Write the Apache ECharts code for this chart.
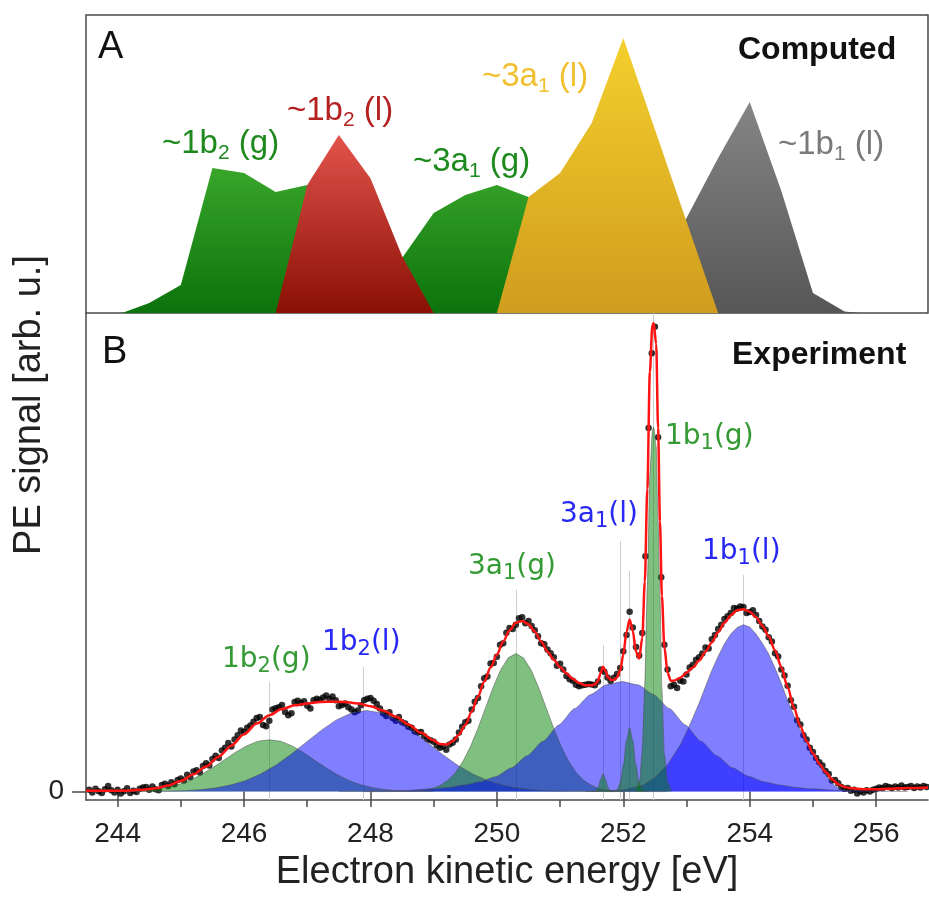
<!DOCTYPE html>
<html><head><meta charset="utf-8">
<script src="https://cdn.jsdelivr.net/npm/echarts@6/dist/echarts.min.js"></script>
<style>html,body{margin:0;padding:0;background:#fff}#c{width:929px;height:897px}</style>
</head><body><div id="c"></div>
<script>
// ---------- axes ----------
const xMin = 243.5, xMax = 256.82;
const xLabelValues = [244, 246, 248, 250, 252, 254, 256];
const xTickValues = [244, 245, 246, 247, 248, 249, 250, 251, 252, 253, 254, 255, 256];
const yTickValues = [0];
const yMinA = 0, yMaxA = 1.0836;
const yMinB = -0.018, yMaxB = 1.0266;

// ---------- panel A (computed), [energy, intensity] ----------
const compGas = [[243.5,0],[244.07,0],[244.5,0.036],[245.0,0.102],[245.5,0.527],[246.0,0.509],[246.5,0.44],[247.0,0.465],[247.5,0.40],[248.0,0.29],[248.5,0.2],[249.0,0.364],[249.5,0.429],[250.0,0.465],[250.5,0.422],[251.0,0.33],[251.5,0.15],[252.0,0]];
const compLiq1b2 = [[246.5,0],[247.0,0.465],[247.5,0.647],[248.0,0.49],[248.5,0.207],[249.0,0]];
const compLiq3a1 = [[250.0,0],[250.5,0.422],[251.0,0.509],[251.5,0.691],[252.0,1.0],[252.5,0.667],[253.0,0.333],[253.5,0]];
const compLiq1b1 = [[252.25,0],[252.5,0.127],[253.0,0.345],[253.5,0.564],[254.0,0.767],[254.5,0.444],[255.0,0.073],[255.5,0.005],[255.75,0]];

// ---------- panel B (experiment) fit components ----------
const fit1b2g = [[243.8,0],[244.24,0.001],[244.42,0.0025],[244.60,0.005],[244.78,0.009],[244.96,0.015],[245.14,0.024],[245.32,0.036],[245.50,0.051],[245.68,0.067],[245.86,0.084],[246.04,0.098],[246.22,0.108],[246.40,0.111],[246.58,0.108],[246.76,0.098],[246.94,0.084],[247.12,0.067],[247.30,0.051],[247.48,0.036],[247.66,0.024],[247.84,0.015],[248.02,0.009],[248.20,0.005],[248.38,0.0025],[248.56,0.001],[249.0,0]];
const fit1b2l = [[244.0,0],[244.58,0.0004],[245.06,0.002],[245.30,0.004],[245.54,0.0076],[245.78,0.014],[246.02,0.0235],[246.26,0.0376],[246.50,0.0565],[246.74,0.0797],[246.98,0.1055],[247.22,0.1313],[247.46,0.1536],[247.70,0.1686],[247.94,0.174],[248.18,0.1686],[248.42,0.1536],[248.66,0.1313],[248.90,0.1055],[249.14,0.0797],[249.38,0.0565],[249.62,0.0376],[249.86,0.0235],[250.10,0.0139],[250.34,0.0076],[250.58,0.004],[250.82,0.0019],[251.30,0.0004],[252.0,0]];
const fit3a1g = [[247.9,0],[248.38,0.0001],[248.62,0.0007],[248.86,0.0033],[248.98,0.0067],[249.10,0.013],[249.22,0.0236],[249.34,0.040],[249.46,0.064],[249.58,0.0961],[249.70,0.1355],[249.82,0.1795],[249.94,0.2234],[250.06,0.2612],[250.18,0.2869],[250.30,0.296],[250.42,0.2869],[250.54,0.2612],[250.66,0.2234],[250.78,0.1795],[250.90,0.1355],[251.02,0.0961],[251.14,0.064],[251.26,0.040],[251.38,0.0236],[251.50,0.013],[251.62,0.0067],[251.74,0.0033],[251.98,0.0007],[252.22,0.0001],[252.7,0]];
const fit3a1l = [[247.5,0],[247.98,0.001],[248.48,0.002],[248.98,0.006],[249.23,0.009],[249.48,0.014],[249.73,0.021],[249.98,0.032],[250.23,0.051],[250.48,0.077],[250.73,0.108],[250.98,0.143],[251.23,0.178],[251.48,0.208],[251.73,0.229],[251.98,0.236],[252.23,0.229],[252.48,0.208],[252.73,0.178],[252.98,0.143],[253.23,0.108],[253.48,0.077],[253.73,0.051],[253.98,0.033],[254.23,0.021],[254.48,0.014],[254.73,0.009],[254.98,0.006],[255.48,0.002],[255.98,0.001],[256.5,0]];
const fitSmall1 = [[251.50,0],[251.56,0.0014],[251.60,0.0082],[251.64,0.026],[251.68,0.038],[251.72,0.026],[251.76,0.0082],[251.80,0.0014],[251.86,0]];
const fitSmall2 = [[251.80,0],[251.85,0.0005],[251.90,0.0039],[251.95,0.0186],[252.00,0.0563],[252.05,0.1097],[252.10,0.137],[252.15,0.1097],[252.20,0.0563],[252.25,0.0186],[252.30,0.0039],[252.35,0.0005],[252.40,0]];
const fit1b1g = [[252.20,0],[252.26,0.025],[252.30,0.09],[252.34,0.23],[252.38,0.44],[252.42,0.68],[252.46,0.775],[252.48,0.782],[252.52,0.74],[252.55,0.58],[252.58,0.42],[252.61,0.22],[252.65,0.08],[252.70,0.02],[252.76,0]];
const fit1b1l = [[251.4,0],[251.7,0.001],[252.0,0.004],[252.3,0.013],[252.5,0.03],[252.7,0.058],[252.9,0.1],[253.0,0.128],[253.1,0.158],[253.2,0.19],[253.3,0.225],[253.4,0.26],[253.5,0.29],[253.6,0.317],[253.7,0.338],[253.8,0.352],[253.9,0.358],[254.0,0.353],[254.1,0.338],[254.2,0.318],[254.3,0.295],[254.4,0.265],[254.5,0.232],[254.6,0.195],[254.7,0.162],[254.8,0.132],[254.9,0.105],[255.0,0.082],[255.1,0.058],[255.2,0.037],[255.3,0.018],[255.4,0.007],[255.5,0.002],[255.6,0]];
const fitTotal = [[243.5,0.002],[243.8,0.002],[244.1,0.002],[244.4,0.004],[244.6,0.007],[244.8,0.013],[245.0,0.023],[245.2,0.037],[245.4,0.054],[245.6,0.075],[245.8,0.099],[246.0,0.123],[246.2,0.146],[246.4,0.164],[246.6,0.177],[246.8,0.185],[247.0,0.189],[247.2,0.192],[247.4,0.193],[247.6,0.192],[247.8,0.189],[248.0,0.183],[248.2,0.174],[248.4,0.161],[248.6,0.144],[248.8,0.126],[249.0,0.110],[249.1,0.102],[249.2,0.101],[249.3,0.108],[249.4,0.122],[249.5,0.143],[249.6,0.171],[249.7,0.204],[249.8,0.236],[249.9,0.266],[250.0,0.294],[250.1,0.322],[250.2,0.346],[250.3,0.362],[250.4,0.366],[250.5,0.359],[250.6,0.343],[250.7,0.322],[250.8,0.300],[250.9,0.283],[251.0,0.267],[251.1,0.254],[251.2,0.242],[251.3,0.233],[251.4,0.228],[251.5,0.228],[251.56,0.231],[251.60,0.238],[251.64,0.254],[251.68,0.268],[251.72,0.258],[251.76,0.245],[251.80,0.240],[251.85,0.240],[251.90,0.245],[251.95,0.260],[252.00,0.294],[252.05,0.342],[252.10,0.369],[252.15,0.345],[252.20,0.300],[252.25,0.285],[252.30,0.33],[252.34,0.45],[252.38,0.65],[252.42,0.90],[252.46,1.00],[252.48,1.005],[252.52,0.96],[252.55,0.78],[252.58,0.58],[252.61,0.42],[252.65,0.31],[252.70,0.255],[252.75,0.238],[252.80,0.238],[252.90,0.244],[253.00,0.255],[253.10,0.266],[253.20,0.281],[253.30,0.300],[253.40,0.320],[253.50,0.342],[253.60,0.362],[253.70,0.378],[253.80,0.389],[253.90,0.391],[254.00,0.386],[254.10,0.374],[254.20,0.356],[254.30,0.333],[254.40,0.303],[254.50,0.267],[254.60,0.224],[254.70,0.180],[254.80,0.140],[254.90,0.108],[255.00,0.082],[255.10,0.060],[255.20,0.042],[255.30,0.027],[255.40,0.016],[255.50,0.010],[255.60,0.007],[255.80,0.005],[256.00,0.005],[256.20,0.006],[256.40,0.007],[256.60,0.008],[256.82,0.009]];

// ---------- panel B measured points ----------
const expData = [[243.55,.004],[243.60,-.002],[243.65,.006],[243.70,.001],[243.75,-.003],[243.80,.005],[243.85,.012],[243.90,.003],[243.95,-.002],[244.00,.004],
[244.05,-.004],[244.10,.001],[244.15,.007],[244.20,-.003],[244.25,.002],[244.30,-.001],[244.35,.006],[244.40,.009],[244.45,.010],[244.50,.004],
[244.55,.011],[244.60,.005],[244.65,.003],[244.70,.014],[244.75,.017],[244.80,.012],[244.85,.020],[244.90,.016],[244.95,.025],[245.00,.028],
[245.05,.024],[245.10,.036],[245.15,.031],[245.20,.043],[245.25,.046],[245.30,.041],[245.35,.055],[245.40,.061],[245.45,.056],[245.50,.070],
[245.55,.077],[245.60,.072],[245.65,.088],[245.70,.094],[245.75,.104],[245.80,.097],[245.85,.112],[245.90,.121],[245.95,.131],[246.00,.128],
[246.05,.137],[246.10,.142],[246.15,.150],[246.20,.158],[246.25,.160],[246.30,.143],[246.35,.140],[246.40,.152],[246.45,.176],[246.50,.179],
[246.55,.181],[246.60,.186],[246.65,.171],[246.70,.164],[246.75,.168],[246.80,.192],[246.85,.195],[246.90,.190],[246.95,.194],[247.00,.184],
[247.05,.178],[247.10,.196],[247.15,.199],[247.20,.197],[247.25,.202],[247.30,.206],[247.35,.199],[247.40,.204],[247.45,.196],[247.50,.183],
[247.55,.186],[247.60,.189],[247.65,.181],[247.70,.176],[247.75,.170],[247.80,.174],[247.85,.185],[247.90,.196],[247.95,.199],[248.00,.201],
[248.05,.195],[248.10,.188],[248.15,.178],[248.20,.168],[248.25,.162],[248.30,.170],[248.35,.158],[248.40,.152],[248.45,.160],[248.50,.149],
[248.55,.146],[248.60,.139],[248.65,.137],[248.70,.129],[248.75,.127],[248.80,.128],[248.85,.119],[248.90,.113],[248.95,.110],[249.00,.107],
[249.05,.099],[249.10,.094],[249.15,.097],[249.20,.090],[249.25,.101],[249.30,.105],[249.35,.112],[249.40,.127],[249.45,.139],[249.50,.149],
[249.55,.152],[249.60,.176],[249.65,.193],[249.70,.201],[249.75,.226],[249.80,.243],[249.85,.247],[249.90,.275],[249.95,.276],[250.00,.289],
[250.05,.315],[250.10,.318],[250.15,.341],[250.20,.351],[250.25,.349],[250.30,.358],[250.35,.372],[250.40,.374],[250.45,.361],[250.50,.366],
[250.55,.355],[250.60,.346],[250.65,.333],[250.70,.318],[250.75,.316],[250.80,.305],[250.85,.297],[250.90,.288],[250.95,.270],[251.00,.274],
[251.05,.262],[251.10,.248],[251.15,.241],[251.20,.238],[251.25,.229],[251.30,.226],[251.35,.228],[251.40,.229],[251.45,.231],[251.50,.230],
[251.55,.228],[251.60,.236],[251.65,.262],[251.70,.257],[251.75,.245],[251.80,.237],[251.85,.244],[251.90,.252],[251.95,.265],[252.00,.301],
[252.05,.336],[252.10,.386],[252.15,.352],[252.20,.310],[252.25,.292],[252.30,.340],[252.35,.505],[252.40,.780],[252.45,.940],[252.50,.997],
[252.55,.760],[252.60,.460],[252.65,.315],[252.70,.262],[252.75,.226],[252.80,.229],[252.85,.222],[252.90,.238],[252.95,.236],[253.00,.251],
[253.05,.266],[253.10,.272],[253.15,.283],[253.20,.288],[253.25,.296],[253.30,.309],[253.35,.307],[253.40,.327],[253.45,.336],[253.50,.349],
[253.55,.358],[253.60,.370],[253.65,.376],[253.70,.383],[253.75,.394],[253.80,.393],[253.85,.397],[253.90,.396],[253.95,.383],[254.00,.385],
[254.05,.389],[254.10,.379],[254.15,.366],[254.20,.354],[254.25,.347],[254.30,.331],[254.35,.322],[254.40,.297],[254.45,.290],[254.50,.262],
[254.55,.249],[254.60,.227],[254.65,.196],[254.70,.182],[254.75,.153],[254.80,.144],[254.85,.121],[254.90,.112],[254.95,.094],[255.00,.085],
[255.05,.072],[255.10,.063],[255.15,.056],[255.20,.044],[255.25,.038],[255.30,.024],[255.35,.025],[255.40,.018],[255.45,.010],[255.50,.006],
[255.55,.008],[255.60,.002],[255.65,.004],[255.70,-.004],[255.75,.001],[255.80,-.002],[255.85,.003],[255.90,.000],[255.95,.004],[256.00,.006],
[256.05,.009],[256.10,.008],[256.15,.012],[256.20,.010],[256.25,.008],[256.30,.011],[256.35,.009],[256.40,.013],[256.45,.009],[256.50,.010],
[256.55,.012],[256.60,.008],[256.65,.011],[256.70,.009],[256.75,.012],[256.80,.010]];

// peak-position guide lines: [energy, top intensity]
const guideLines = [[246.40,0.235],[247.88,0.267],[250.30,0.433],[251.68,0.314],[251.95,0.537],[252.09,0.473],[252.47,1.0266],[253.89,0.465]];

// ---------- chart ----------
const FONT = '"Liberation Sans", Arial, Helvetica, sans-serif';
const VFONT = '"DejaVu Sans", Verdana, sans-serif';
const GREEN_FILL = 'rgba(0,128,0,0.5)';
const BLUE_FILL = 'rgba(0,0,255,0.5)';

function grad(top, bottom) {
  return new echarts.graphic.LinearGradient(0, 0, 0, 1, [{offset: 0, color: top}, {offset: 1, color: bottom}]);
}
function topArea(name, data, c1, c2) {
  return {name, type: 'line', xAxisIndex: 0, yAxisIndex: 0, data, symbol: 'none', silent: true,
    lineStyle: {width: 0}, areaStyle: {color: grad(c1, c2), opacity: 1}};
}
function comp(name, data, fill, smooth) {
  return {name, type: 'line', xAxisIndex: 1, yAxisIndex: 1, data, symbol: 'none', silent: true,
    smooth: smooth, smoothMonotone: 'x',
    lineStyle: {color: 'rgba(80,80,80,0.65)', width: 0.8},
    areaStyle: {color: fill, opacity: 1}};
}
function subLabel(x, y, pre, sub, post, size, subSize, color, family) {
  return {type: 'text', x: x, y: y, silent: true, z: 100,
    style: {text: '{m|' + pre + '}{s|' + sub + '}{m|' + post + '}', align: 'left', verticalAlign: 'middle',
      rich: {
        m: {fontSize: size, fontFamily: family, fill: color, color: color, lineHeight: size + 6},
        s: {fontSize: subSize, fontFamily: family, fill: color, color: color, lineHeight: subSize, verticalAlign: 'bottom'}
      }}};
}
function plainText(x, y, text, size, weight, color, family, rotation) {
  return {type: 'text', x: x, y: y, rotation: rotation || 0, silent: true, z: 100,
    style: {text: text, fontSize: size, fontWeight: weight, fontFamily: family, fill: color,
      align: rotation ? 'center' : 'left', verticalAlign: 'middle'}};
}

const chart = echarts.init(document.getElementById('c'));
chart.setOption({
  animation: false,
  backgroundColor: '#fff',
  grid: [
    {left: 86, right: 1, top: 15, height: 298, show: true, borderColor: '#4a4a4a', borderWidth: 1.5, backgroundColor: 'transparent'},
    {left: 86, right: 1, top: 313, height: 491}
  ],
  xAxis: [
    {type: 'value', gridIndex: 0, min: xMin, max: xMax, axisLine: {show: false}, axisTick: {show: false},
      axisLabel: {show: false}, splitLine: {show: false}},
    {type: 'value', gridIndex: 1, min: xMin, max: xMax, position: 'bottom',
      axisLine: {show: true, onZero: false, lineStyle: {color: '#4a4a4a', width: 1.5}},
      axisTick: {show: true, customValues: xTickValues, length: 7, lineStyle: {color: '#4a4a4a', width: 1.5}},
      axisLabel: {show: true, customValues: xLabelValues, fontSize: 28, fontFamily: FONT, color: '#222', margin: 20, lineHeight: 28},
      splitLine: {show: false},
      name: 'Electron kinetic energy [eV]', nameLocation: 'middle', nameGap: 54,
      nameTextStyle: {fontSize: 38, fontFamily: FONT, color: '#222'}},
    {type: 'value', gridIndex: 1, min: xMin, max: xMax, position: 'bottom', offset: 0,
      axisLine: {show: false}, axisTick: {show: true, customValues: xLabelValues, length: 12, lineStyle: {color: '#4a4a4a', width: 1.5}},
      axisLabel: {show: false}, splitLine: {show: false}}
  ],
  yAxis: [
    {type: 'value', gridIndex: 0, min: yMinA, max: yMaxA, show: false, splitLine: {show: false}},
    {type: 'value', gridIndex: 1, min: yMinB, max: yMaxB,
      axisLine: {show: true, onZero: false, lineStyle: {color: '#4a4a4a', width: 1.5}},
      axisTick: {show: true, customValues: yTickValues, length: 14, lineStyle: {color: '#4a4a4a', width: 1.5}},
      axisLabel: {show: true, customValues: yTickValues, fontSize: 28, fontFamily: FONT, color: '#222', margin: 22},
      splitLine: {show: false}}
  ],
  series: [
    topArea('gas', compGas, '#38a52a', '#0b730b'),
    topArea('1b1 (l)', compLiq1b1, '#858585', '#565656'),
    topArea('1b2 (l)', compLiq1b2, '#e2534c', '#8a1004'),
    topArea('3a1 (l)', compLiq3a1, '#f3cf2c', '#d09c1e'),
    {name: 'guides', type: 'line', xAxisIndex: 1, yAxisIndex: 1, data: [], silent: true,
      markLine: {silent: true, symbol: ['none', 'none'], z: 1, animation: false, label: {show: false},
        lineStyle: {color: '#cdcdcd', width: 1, type: 'solid'},
        data: guideLines.map(g => [{coord: [g[0], yMinB]}, {coord: [g[0], g[1]]}])}},
    comp('1b2(g)', fit1b2g, GREEN_FILL, false),
    comp('1b2(l)', fit1b2l, BLUE_FILL, false),
    comp('3a1(g)', fit3a1g, GREEN_FILL, false),
    comp('3a1(l)', fit3a1l, BLUE_FILL, 0.2),
    comp('1b1(l)', fit1b1l, BLUE_FILL, false),
    comp('small1', fitSmall1, GREEN_FILL, 0.3),
    comp('small2', fitSmall2, GREEN_FILL, 0.3),
    comp('1b1(g)', fit1b1g, GREEN_FILL, 0.2),
    {name: 'experiment', type: 'scatter', xAxisIndex: 1, yAxisIndex: 1, data: expData, silent: true,
      symbol: 'circle', symbolSize: 6.5, itemStyle: {color: '#000'}},
    {name: 'fit', type: 'line', xAxisIndex: 1, yAxisIndex: 1, data: fitTotal, silent: true, symbol: 'none',
      smooth: 0.3, smoothMonotone: 'x', lineStyle: {color: '#ff1414', width: 2.5}}
  ],
  graphic: [
    plainText(98, 48, 'A', 38, 'normal', '#111', FONT),
    plainText(738, 50, 'Computed', 32, 'bold', '#111', FONT),
    subLabel(162, 144, '~1b', '2', ' (g)', 33, 21, '#1e8a1e', FONT),
    subLabel(287, 111, '~1b', '2', ' (l)', 33, 21, '#b52020', FONT),
    subLabel(413, 162, '~3a', '1', ' (g)', 33, 21, '#1e8a1e', FONT),
    subLabel(482, 77, '~3a', '1', ' (l)', 33, 21, '#f0c030', FONT),
    subLabel(778, 145, '~1b', '1', ' (l)', 33, 21, '#7a7a7a', FONT),
    plainText(102, 353, 'B', 38, 'normal', '#111', FONT),
    plainText(732, 355, 'Experiment', 32, 'bold', '#111', FONT),
    subLabel(222, 660, '1b', '2', '(g)', 28, 21, '#349a34', VFONT),
    subLabel(322, 643, '1b', '2', '(l)', 28, 21, '#2828f5', VFONT),
    subLabel(468, 567, '3a', '1', '(g)', 28, 21, '#349a34', VFONT),
    subLabel(560, 515, '3a', '1', '(l)', 28, 21, '#2828f5', VFONT),
    subLabel(665, 437, '1b', '1', '(g)', 28, 21, '#349a34', VFONT),
    subLabel(702, 552, '1b', '1', '(l)', 28, 21, '#2828f5', VFONT),
    plainText(30, 405, 'PE signal [arb. u.]', 38, 'normal', '#222', FONT, Math.PI / 2)
  ]
});
</script>
</body></html>
